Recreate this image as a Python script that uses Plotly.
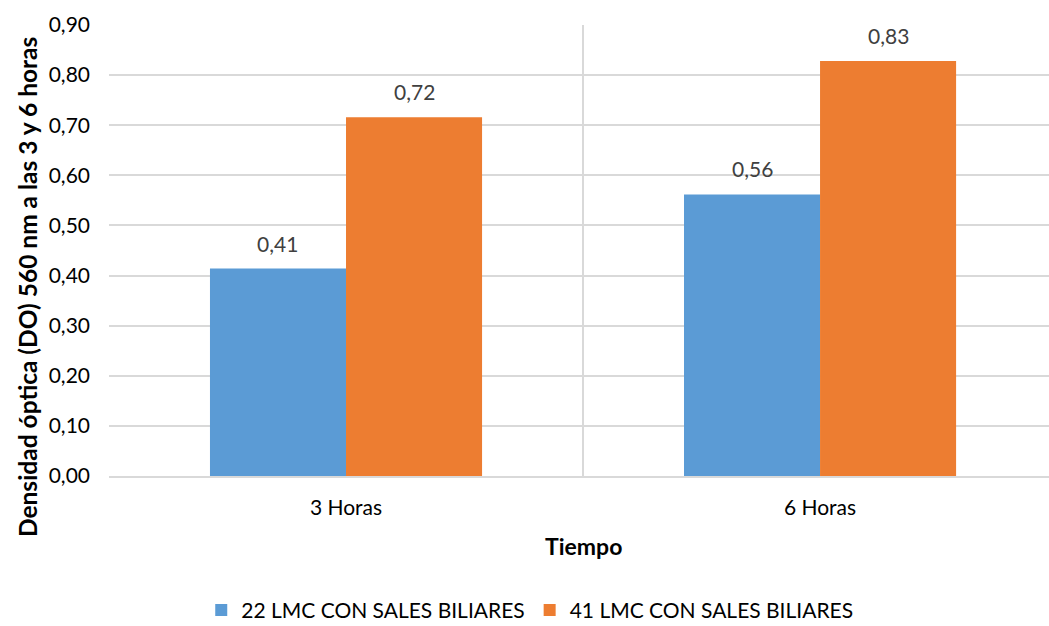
import plotly.graph_objects as go

# Tiempos de lectura y densidad óptica por cepa
categorias = ["3 Horas", "6 Horas"]
serie_22 = [0.414, 0.562]
serie_41 = [0.716, 0.828]
nombres = ["22 LMC CON SALES BILIARES", "41 LMC CON SALES BILIARES"]
colores = ["#5B9BD5", "#ED7D31"]
ticks_y = [0.0, 0.1, 0.2, 0.3, 0.4, 0.5, 0.6, 0.7, 0.8, 0.9]

FUENTE = "Lato, Carlito, Calibri, sans-serif"
TAM = 21
BARGAP = 0.426
x_pos = list(range(len(categorias)))
ancho = (1 - BARGAP) / 2

fig = go.Figure()
for nombre, valores, color in zip(nombres, [serie_22, serie_41], colores):
    fig.add_trace(go.Bar(
        x=x_pos, y=valores, name=nombre,
        marker=dict(color=color, line=dict(width=0)),
        xaxis="x", yaxis="y",
    ))

# Etiquetas de valor sobre cada barra
for k, valores in enumerate([serie_22, serie_41]):
    desplaz = (k - 0.5) * ancho
    for xi, v in zip(x_pos, valores):
        fig.add_annotation(
            x=xi + desplaz, y=v, xref="x", yref="y",
            text=f"{v:.2f}".replace(".", ","),
            showarrow=False, yanchor="bottom", yshift=11,
            font=dict(family=FUENTE, size=TAM, color="#404040"),
        )

# Título del eje X
fig.add_annotation(
    x=0.5, y=0, xref="x", yref="paper", yshift=-70,
    text="<b>Tiempo</b>", showarrow=False, yanchor="middle",
    font=dict(family=FUENTE, size=23, color="#000000"),
)
# Título del eje Y
fig.add_annotation(
    x=(27 - 109) / 940, xref="paper", xanchor="center",
    y=(476 - 287) / 451, yref="paper", yanchor="middle",
    text="<b>Densidad óptica (DO) 560 nm a las 3 y 6 horas</b>",
    showarrow=False, textangle=-90,
    font=dict(family=FUENTE, size=24.5, color="#000000"),
)

fig.update_layout(
    width=1049, height=626,
    margin=dict(l=109, r=0, t=25, b=150),
    paper_bgcolor="white", plot_bgcolor="white",
    barmode="group", bargap=BARGAP, bargroupgap=0,
    separators=", ",
    font=dict(family=FUENTE, size=TAM, color="#000000"),
    showlegend=True,
    legend=dict(
        orientation="h", xref="container", yref="container",
        x=0.505, xanchor="center", y=0.025, yanchor="middle",
        font=dict(family=FUENTE, size=TAM, color="#000000"),
        itemwidth=30, traceorder="normal",
    ),
    xaxis=dict(
        range=[-0.5, 1.483], tickmode="array", tickvals=x_pos, ticktext=categorias,
        showgrid=False, zeroline=False, showline=True, linecolor="#d9d9d9", linewidth=2,
        ticks="", ticklabelstandoff=12,
        tickfont=dict(family=FUENTE, size=TAM, color="#000000"),
    ),
    xaxis2=dict(
        overlaying="x", range=[-0.5, 1.483], tickvals=[-0.5, 0.5, 1.5],
        showgrid=True, gridcolor="#d9d9d9", gridwidth=2, showticklabels=False,
        ticks="", zeroline=False, showline=False,
    ),
    yaxis=dict(
        range=[0, 0.9], tickvals=ticks_y, tickformat=".2f",
        showgrid=True, gridcolor="#d9d9d9", gridwidth=2, zeroline=False,
        showline=False, ticks="", ticklabelstandoff=18,
        tickfont=dict(family=FUENTE, size=TAM, color="#000000"),
    ),
)

# Traza vacía para activar las líneas verticales del eje secundario
fig.add_trace(go.Scatter(x=[None], y=[None], xaxis="x2", yaxis="y",
                         showlegend=False, hoverinfo="skip"))

fig.write_html("out.html")
